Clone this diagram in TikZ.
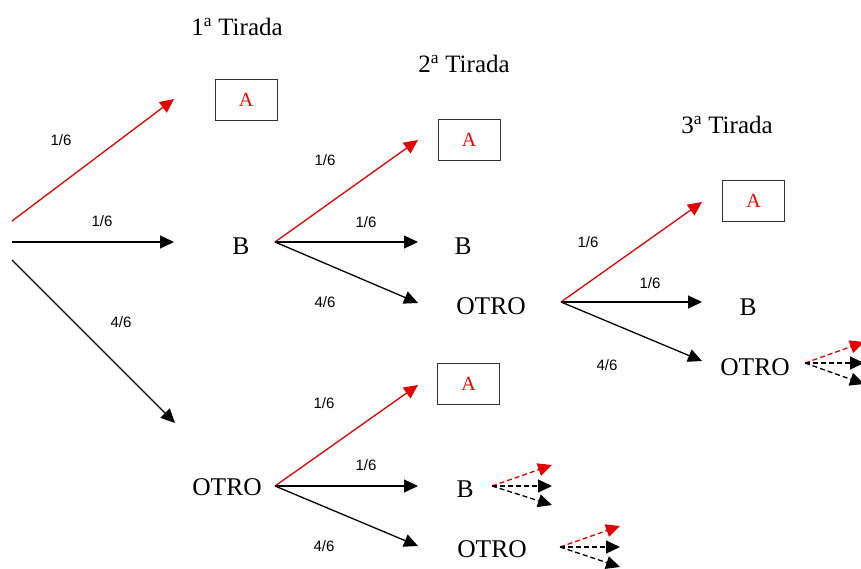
\documentclass[tikz,border=0pt]{standalone}
\usepackage{fontspec}
\setmainfont{Liberation Serif}
\newfontfamily\probfont{Liberation Sans}
\usetikzlibrary{arrows.meta}

\begin{document}
\begin{tikzpicture}[x=1pt,y=-1pt,
  res/.style={font=\fontsize{25.5}{30}\selectfont},
  hdr/.style={font=\fontsize{25}{30}\selectfont},
  box/.style={draw=black!80,line width=1pt,minimum width=62pt,minimum height=41pt,
              inner sep=0pt,text=red,font=\fontsize{20}{24}\selectfont},
  prob/.style={font=\probfont\fontsize{15}{18}\selectfont},
  arr/.style={line width=1.3pt,-{Triangle[length=14pt,width=13pt]}},
  arrR/.style={arr,red!90!black},
  darr/.style={arr,dash pattern=on 5pt off 3pt},
  darrR/.style={darr,red!90!black}]
  \useasboundingbox (0,0) rectangle (861,568);
  % headers
  \node[hdr] (h1) at (237,27) {1\textsuperscript{a} Tirada};
  \node[hdr] (h2) at (464,64) {2\textsuperscript{a} Tirada};
  \node[hdr] (h3) at (727,125) {3\textsuperscript{a} Tirada};
  % outcomes
  \node[box] (a1) at (246,99.5) {A};
  \node[res] (b1) at (241,246) {B};
  \node[res] (o1) at (227,487) {OTRO};
  \node[box] (a2) at (469,140) {A};
  \node[res] (b2) at (463,246) {B};
  \node[res] (o2) at (491,306) {OTRO};
  \node[box] (a3) at (468.5,383.5) {A};
  \node[res] (b3) at (465,489) {B};
  \node[res] (o3) at (492,549) {OTRO};
  \node[box] (a4) at (753.5,201) {A};
  \node[res] (b4) at (748,307) {B};
  \node[res] (o4) at (755,367) {OTRO};
  % branch points and tips
  \coordinate (r1) at (12,221);  \coordinate (r1t) at (174,99);
  \coordinate (r2) at (12,242);  \coordinate (r2t) at (174,242);
  \coordinate (r3) at (12,260);  \coordinate (r3t) at (175,423);
  \coordinate (fb1) at (275,242);
  \coordinate (fb1a) at (418,140); \coordinate (fb1b) at (418,242); \coordinate (fb1o) at (418,303);
  \coordinate (fo1) at (275,486);
  \coordinate (fo1a) at (418,385); \coordinate (fo1b) at (418,486); \coordinate (fo1o) at (418,546);
  \coordinate (fo2) at (561,302);
  \coordinate (fo2a) at (702,202); \coordinate (fo2b) at (702,302); \coordinate (fo2o) at (702,361);
  \coordinate (db3) at (492,486);
  \coordinate (db3a) at (552,465); \coordinate (db3b) at (552,486); \coordinate (db3o) at (552,505);
  \coordinate (do3) at (560,547);
  \coordinate (do3a) at (620,526); \coordinate (do3b) at (620,547); \coordinate (do3o) at (620,567);
  \coordinate (do4) at (805,363);
  \coordinate (do4a) at (864,342); \coordinate (do4b) at (864,363); \coordinate (do4o) at (864,384);
  % first throw
  \draw[arrR] (r1) -- (r1t);
  \draw[arr] (r2) -- (r2t);
  \draw[arr] (r3) -- (r3t);
  \node[prob] (p1) at (61,140) {1/6};
  \node[prob] (p2) at (102,221) {1/6};
  \node[prob] (p3) at (121,322) {4/6};
  % second throw after B
  \draw[arrR] (fb1) -- (fb1a);
  \draw[arr] (fb1) -- (fb1b);
  \draw[arr] (fb1) -- (fb1o);
  \node[prob] (p4) at (325,160) {1/6};
  \node[prob] (p5) at (366,222) {1/6};
  \node[prob] (p6) at (325,302) {4/6};
  % second throw after OTRO
  \draw[arrR] (fo1) -- (fo1a);
  \draw[arr] (fo1) -- (fo1b);
  \draw[arr] (fo1) -- (fo1o);
  \node[prob] (p7) at (324,403) {1/6};
  \node[prob] (p8) at (366,465) {1/6};
  \node[prob] (p9) at (324,546) {4/6};
  % third throw
  \draw[arrR] (fo2) -- (fo2a);
  \draw[arr] (fo2) -- (fo2b);
  \draw[arr] (fo2) -- (fo2o);
  \node[prob] (p10) at (588,242) {1/6};
  \node[prob] (p11) at (650,283) {1/6};
  \node[prob] (p12) at (607,365) {4/6};
  % and so on
  \draw[darrR] (db3) -- (db3a);
  \draw[darr] (db3) -- (db3b);
  \draw[darr] (db3) -- (db3o);
  \draw[darrR] (do3) -- (do3a);
  \draw[darr] (do3) -- (do3b);
  \draw[darr] (do3) -- (do3o);
  \draw[darrR] (do4) -- (do4a);
  \draw[darr] (do4) -- (do4b);
  \draw[darr] (do4) -- (do4o);
\end{tikzpicture}
\end{document}
